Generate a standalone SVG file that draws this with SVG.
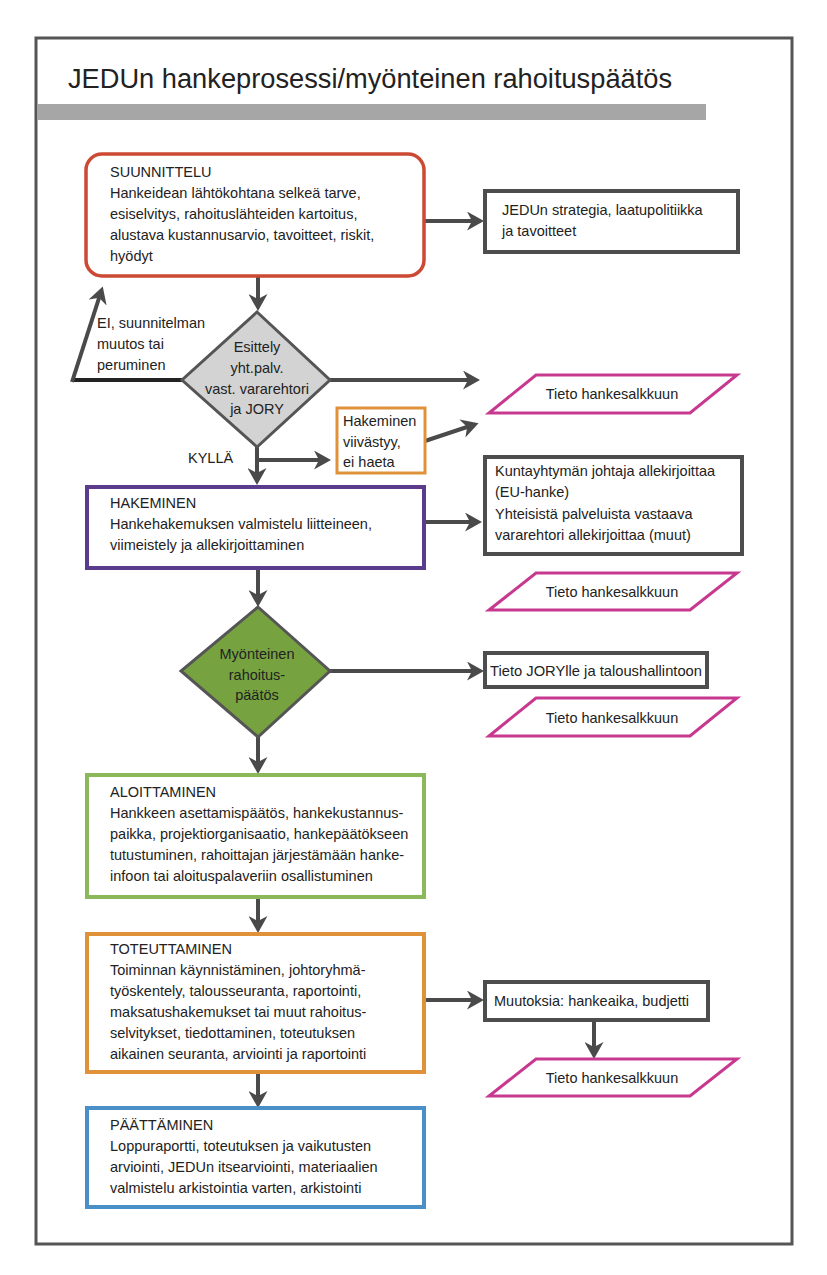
<svg xmlns="http://www.w3.org/2000/svg" width="827" height="1275" viewBox="0 0 827 1275">
<style>
text{font-family:"Liberation Sans",Arial,sans-serif;font-size:14.5px;fill:#222}
.c{text-anchor:middle}
.con{fill:none;stroke:#4a4a4a;stroke-width:4}
.gbox{fill:#fff;stroke:#4d4d4d;stroke-width:4}
.para{fill:#fff;stroke:#c8388f;stroke-width:3}
</style>
<defs>
<marker id="ah" viewBox="0 0 17 19" refX="8" refY="9.5" markerWidth="17" markerHeight="19" markerUnits="userSpaceOnUse" orient="auto">
<path d="M0,0 L17,9.5 L0,19 L5,9.5 z" fill="#4a4a4a"/>
</marker>
</defs>
<rect x="0" y="0" width="827" height="1275" fill="#fff"/>
<rect id="frame" x="36" y="38" width="756" height="1206" fill="none" stroke="#555" stroke-width="3"/>
<text id="title" x="68" y="88" style="font-size:27px" textLength="604" lengthAdjust="spacingAndGlyphs">JEDUn hankeprosessi/myönteinen rahoituspäätös</text>
<rect id="titlebar" x="37" y="104" width="669" height="16" fill="#a6a6a6"/>

<g id="connectors">
<path class="con" d="M425,221 H475" marker-end="url(#ah)"/>
<path class="con" d="M258,277 V302" marker-end="url(#ah)"/>
<path d="M182,380 H72" fill="none" stroke="#222" stroke-width="4"/>
<path class="con" d="M72,382 L100,295" marker-end="url(#ah)"/>
<path class="con" d="M330,380 H471" marker-end="url(#ah)"/>
<path class="con" d="M257,447 V476" marker-end="url(#ah)"/>
<path class="con" d="M257,460 H322" marker-end="url(#ah)"/>
<path class="con" d="M425,441 L470,426" marker-end="url(#ah)"/>
<path class="con" d="M425,522 H473" marker-end="url(#ah)"/>
<path class="con" d="M258,568 V598" marker-end="url(#ah)"/>
<path class="con" d="M330,671 H475" marker-end="url(#ah)"/>
<path class="con" d="M258,737 V765" marker-end="url(#ah)"/>
<path class="con" d="M258,897 V924" marker-end="url(#ah)"/>
<path class="con" d="M425,1000 H475" marker-end="url(#ah)"/>
<path class="con" d="M594,1020 V1050" marker-end="url(#ah)"/>
<path class="con" d="M258,1072 V1099" marker-end="url(#ah)"/>
</g>

<g id="suunnittelu">
<rect x="86" y="154" width="338" height="122" rx="16" fill="#fff" stroke="#cc4a33" stroke-width="3.5"/>
<text x="110" y="177">SUUNNITTELU</text>
<text x="110" y="198">Hankeidean lähtökohtana selkeä tarve,</text>
<text x="110" y="219">esiselvitys, rahoituslähteiden kartoitus,</text>
<text x="110" y="240">alustava kustannusarvio, tavoitteet, riskit,</text>
<text x="110" y="261">hyödyt</text>
</g>

<g id="strategia">
<rect class="gbox" x="485" y="191" width="253" height="61"/>
<text x="502" y="215">JEDUn strategia, laatupolitiikka</text>
<text x="502" y="236">ja tavoitteet</text>
</g>

<g id="ei-label">
<text x="97" y="328">EI, suunnitelman</text>
<text x="97" y="349">muutos tai</text>
<text x="97" y="370">peruminen</text>
</g>

<g id="esittely">
<polygon points="257,312 330,380 257,447 182,380" fill="#d3d3d3" stroke="#555" stroke-width="3"/>
<text class="c" x="257" y="352">Esittely</text>
<text class="c" x="257" y="373">yht.palv.</text>
<text class="c" x="257" y="394">vast. vararehtori</text>
<text class="c" x="257" y="414">ja JORY</text>
</g>

<g id="tieto1">
<polygon class="para" points="536,375 737,375 690,413 489,413"/>
<text class="c" x="612" y="399">Tieto hankesalkkuun</text>
</g>

<g id="viivastyy">
<rect x="337" y="408" width="88" height="65" fill="#fff" stroke="#e0923a" stroke-width="3"/>
<text x="343" y="426">Hakeminen</text>
<text x="343" y="447">viivästyy,</text>
<text x="343" y="467">ei haeta</text>
</g>

<text id="kylla" x="188" y="463">KYLLÄ</text>

<g id="hakeminen">
<rect x="87" y="487" width="337" height="81" fill="#fff" stroke="#5a3b8c" stroke-width="4"/>
<text x="110" y="508">HAKEMINEN</text>
<text x="110" y="529">Hankehakemuksen valmistelu liitteineen,</text>
<text x="110" y="550">viimeistely ja allekirjoittaminen</text>
</g>

<g id="allekirjoitus">
<rect class="gbox" x="485" y="457" width="257" height="97"/>
<text x="495" y="476">Kuntayhtymän johtaja allekirjoittaa</text>
<text x="495" y="497">(EU-hanke)</text>
<text x="495" y="519">Yhteisistä palveluista vastaava</text>
<text x="495" y="540">vararehtori allekirjoittaa (muut)</text>
</g>

<g id="tieto2">
<polygon class="para" points="536,573 737,573 690,610 489,610"/>
<text class="c" x="612" y="597">Tieto hankesalkkuun</text>
</g>

<g id="myonteinen">
<polygon points="258,607 330,671 258,737 181,671" fill="#76a33f" stroke="#555" stroke-width="3"/>
<text class="c" x="257" y="659">Myönteinen</text>
<text class="c" x="257" y="680">rahoitus-</text>
<text class="c" x="257" y="700">päätös</text>
</g>

<g id="tieto-jory">
<rect class="gbox" x="485" y="653" width="222" height="34"/>
<text x="490" y="676" textLength="212" lengthAdjust="spacingAndGlyphs">Tieto JORYlle ja taloushallintoon</text>
</g>

<g id="tieto3">
<polygon class="para" points="536,698 737,698 690,736 489,736"/>
<text class="c" x="612" y="723">Tieto hankesalkkuun</text>
</g>

<g id="aloittaminen">
<rect x="87" y="775" width="337" height="122" fill="#fff" stroke="#8cb85c" stroke-width="4"/>
<text x="110" y="797">ALOITTAMINEN</text>
<text x="110" y="818">Hankkeen asettamispäätös, hankekustannus-</text>
<text x="110" y="839">paikka, projektiorganisaatio, hankepäätökseen</text>
<text x="110" y="860">tutustuminen, rahoittajan järjestämään hanke-</text>
<text x="110" y="881">infoon tai aloituspalaveriin osallistuminen</text>
</g>

<g id="toteuttaminen">
<rect x="87" y="934" width="337" height="138" fill="#fff" stroke="#e0923a" stroke-width="4"/>
<text x="110" y="954">TOTEUTTAMINEN</text>
<text x="110" y="975">Toiminnan käynnistäminen, johtoryhmä-</text>
<text x="110" y="996">työskentely, talousseuranta, raportointi,</text>
<text x="110" y="1017">maksatushakemukset tai muut rahoitus-</text>
<text x="110" y="1038">selvitykset, tiedottaminen, toteutuksen</text>
<text x="110" y="1059">aikainen seuranta, arviointi ja raportointi</text>
</g>

<g id="muutoksia">
<rect class="gbox" x="485" y="982" width="223" height="38"/>
<text x="494" y="1006">Muutoksia: hankeaika, budjetti</text>
</g>

<g id="tieto4">
<polygon class="para" points="536,1059 737,1059 690,1096 489,1096"/>
<text class="c" x="612" y="1083">Tieto hankesalkkuun</text>
</g>

<g id="paattaminen">
<rect x="87" y="1108" width="337" height="99" fill="#fff" stroke="#4a8fc7" stroke-width="4"/>
<text x="110" y="1130">PÄÄTTÄMINEN</text>
<text x="110" y="1151">Loppuraportti, toteutuksen ja vaikutusten</text>
<text x="110" y="1172">arviointi, JEDUn itsearviointi, materiaalien</text>
<text x="110" y="1193">valmistelu arkistointia varten, arkistointi</text>
</g>
</svg>
